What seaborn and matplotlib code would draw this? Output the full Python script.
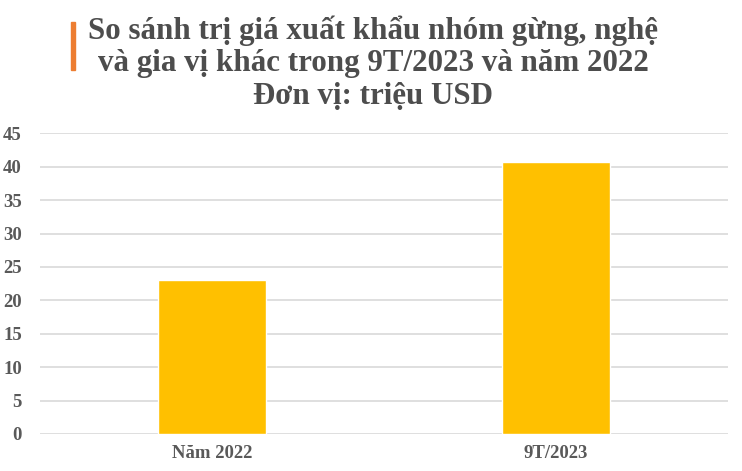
import matplotlib as mpl
import matplotlib.pyplot as plt
import seaborn as sns
import pandas as pd

categories = ["Năm 2022", "9T/2023"]
values = [23.05, 40.75]
yticks = [0, 5, 10, 15, 20, 25, 30, 35, 40, 45]

sns.set_style("white")
mpl.rcParams["font.family"] = ["Liberation Serif", "DejaVu Serif"]
mpl.rcParams["font.weight"] = "bold"

text_col = "#595959"
data = pd.DataFrame({"cat": categories, "val": values})

fig = plt.figure(figsize=(7.42, 4.71), dpi=100)
ax = fig.add_axes([0.0539, 0.0786, 0.927, 0.6384])
sns.barplot(data=data, x="cat", y="val", color="#FFC000", saturation=1,
            width=0.314, ax=ax, zorder=3)
ax.set_xlim(-0.5, 1.5)
ax.set_ylim(0, 45)
ax.set_yticks(yticks)
ax.set_yticklabels([str(t) for t in yticks])
ax.yaxis.grid(True, color="#D9D9D9", linewidth=1.2, zorder=0)
for s in ax.spines.values():
    s.set_visible(False)
ax.tick_params(axis="both", length=0, labelsize=13.5, labelcolor=text_col)
ax.tick_params(axis="y", pad=13)
ax.tick_params(axis="x", pad=8)
for lbl in ax.get_xticklabels() + ax.get_yticklabels():
    lbl.set_fontweight("bold")
ax.set_xlabel("")
ax.set_ylabel("")

fig.text(0.503, 0.968, "So sánh trị giá xuất khẩu nhóm gừng, nghệ\nvà gia vị khác trong 9T/2023 và năm 2022\nĐơn vị: triệu USD",
         ha="center", va="top", fontsize=22.3, fontweight="bold", color="#4D4D4D",
         linespacing=1.17)
fig.patches.append(mpl.patches.Rectangle((0.096, 0.851), 0.0055, 0.102, transform=fig.transFigure,
                                         color="#ED7D31", zorder=5))

fig.savefig("out.png", dpi=100)
